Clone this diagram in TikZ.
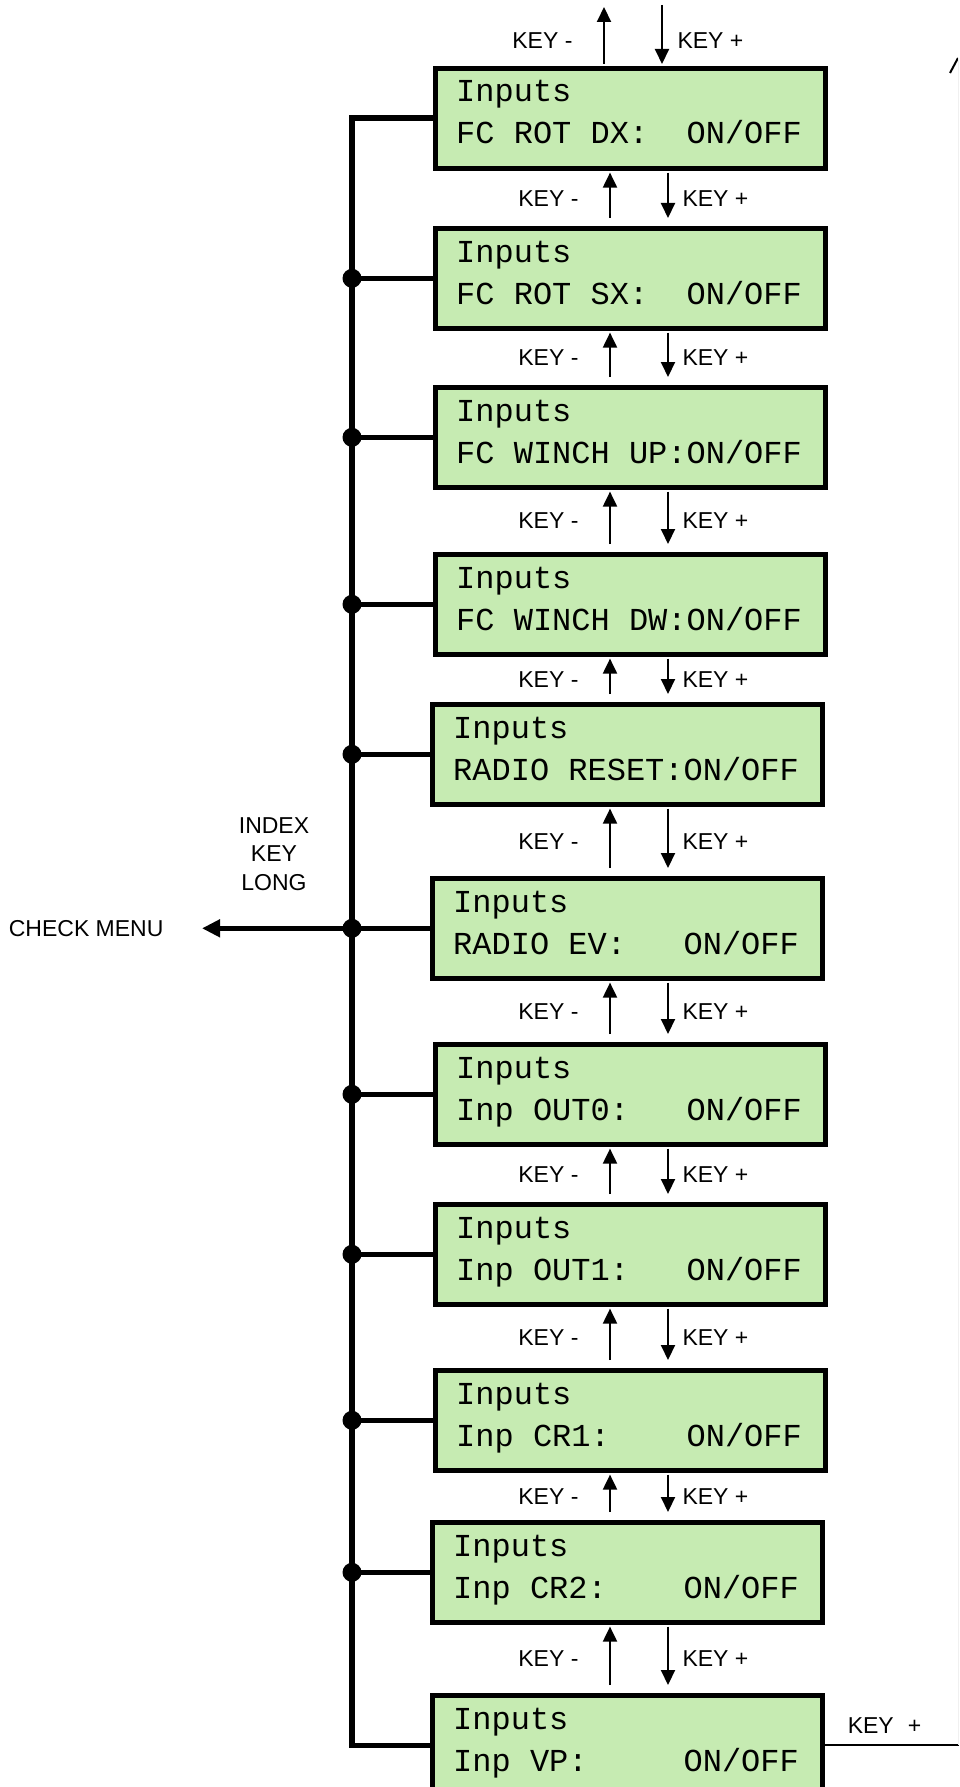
\documentclass[tikz,border=0pt]{standalone}
\usepackage{fontspec}
\setmainfont{Liberation Sans}
\newfontfamily\lcdfont{Liberation Mono}
\usepackage{xcolor}
\usetikzlibrary{arrows.meta,calc}
\definecolor{lcdgreen}{RGB}{198,235,178}

\newcommand{\lcdlines}[2]{%
  \node[lcdtext] (#1t1) at ([shift={(23,-36)}]#1.north west) {Inputs};
  \node[lcdtext] (#1t2) at ([shift={(23,-78)}]#1.north west) {#2};}

\begin{document}
\begin{tikzpicture}[x=1pt,y=1pt,every node/.style={font=\fontsize{23}{28.5}\selectfont},
  lcd/.style={draw=black,line width=4.6pt,fill=lcdgreen,minimum width=390pt,minimum height=100pt,inner sep=0pt,anchor=north west},
  lcdtext/.style={font=\lcdfont\fontsize{32}{42}\selectfont,anchor=base west,inner sep=0pt},
  key/.style={line width=2pt,-{Triangle[length=15pt,width=14pt]}},
  bus/.style={line width=5.6pt},
  jn/.style={circle,fill=black,minimum size=19pt,inner sep=0pt}]
\useasboundingbox (0,0) rectangle (959,-1787);
\clip (0,0) rectangle (959,-1787);
% display boxes
\node[lcd] (b1) at (433,-66) {};
\lcdlines{b1}{FC~ROT~DX:~~ON/OFF}
\node[lcd] (b2) at (433,-226) {};
\lcdlines{b2}{FC~ROT~SX:~~ON/OFF}
\node[lcd] (b3) at (433,-385) {};
\lcdlines{b3}{FC~WINCH~UP:ON/OFF}
\node[lcd] (b4) at (433,-552) {};
\lcdlines{b4}{FC~WINCH~DW:ON/OFF}
\node[lcd] (b5) at (430,-702) {};
\lcdlines{b5}{RADIO~RESET:ON/OFF}
\node[lcd] (b6) at (430,-876) {};
\lcdlines{b6}{RADIO~EV:~~~ON/OFF}
\node[lcd] (b7) at (433,-1042) {};
\lcdlines{b7}{Inp~OUT0:~~~ON/OFF}
\node[lcd] (b8) at (433,-1202) {};
\lcdlines{b8}{Inp~OUT1:~~~ON/OFF}
\node[lcd] (b9) at (433,-1368) {};
\lcdlines{b9}{Inp~CR1:~~~~ON/OFF}
\node[lcd] (b10) at (430,-1520) {};
\lcdlines{b10}{Inp~CR2:~~~~ON/OFF}
\node[lcd] (b11) at (430,-1693) {};
\lcdlines{b11}{Inp~VP:~~~~~ON/OFF}
% key arrows
\coordinate (up) at (610,0);
\coordinate (dn) at (668,0);
\coordinate (topup) at (604,-7);
\coordinate (topdn) at (662,-5);
\draw[key] ($(topup |- b1.north)+(0,2)$) -- (topup);
\draw[key] (topdn) -- ($(topdn |- b1.north)+(0,2)$);
\node[anchor=east] (km1) at (576,-41) {KEY -};
\node[anchor=west] (kp1) at (674,-41) {KEY +};
\foreach \a/\b in {1/2,2/3,3/4,4/5,5/6,6/7,7/8,8/9,9/10,10/11} {
  \draw[key] ($(up |- b\b.north)+(0,8)$) -- ($(up |- b\a.south)+(0,-2)$);
  \draw[key] ($(dn |- b\a.south)+(0,-2)$) -- ($(dn |- b\b.north)+(0,8)$);
  \node[anchor=east] (km\b) at ($(up |- b\a.south)!0.5!(up |- b\b.north)+(-28,0)$) {KEY -};
  \node[anchor=west] (kp\b) at ($(dn |- b\a.south)!0.5!(dn |- b\b.north)+(11,0)$) {KEY +};
}
% index bus
\coordinate (bus) at (352,0);
\draw[bus] (b1.west) -| (bus |- b11.west) -- (b11.west);
\foreach \i in {2,...,10} {
  \draw[bus] (bus |- b\i.west) -- (b\i.west);
  \node[jn] (j\i) at (bus |- b\i.west) {};
}
\node[anchor=east] (cm) at ([xshift=-185pt]j6.center) {CHECK MENU};
\draw[bus,-{Triangle[length=18pt,width=17pt]},shorten >=35pt] (j6.center) -- (cm.east);
\node[align=center] (ikl) at (274,-854) {INDEX\\KEY\\LONG};
% exit to the right
\coordinate (rt) at (959,0);
\draw[line width=2pt] (b11.east) -- (rt |- b11.east);
\node[anchor=west,inner sep=0pt] (kpr) at ([shift={(23,20)}]b11.east) {KEY\hspace{14pt}+};
\draw[line width=2pt] (950,-73) -- (958,-58);
\draw[gray!12,line width=1pt] (958.5,-58) -- (958.5,-1745);
\end{tikzpicture}
\end{document}
